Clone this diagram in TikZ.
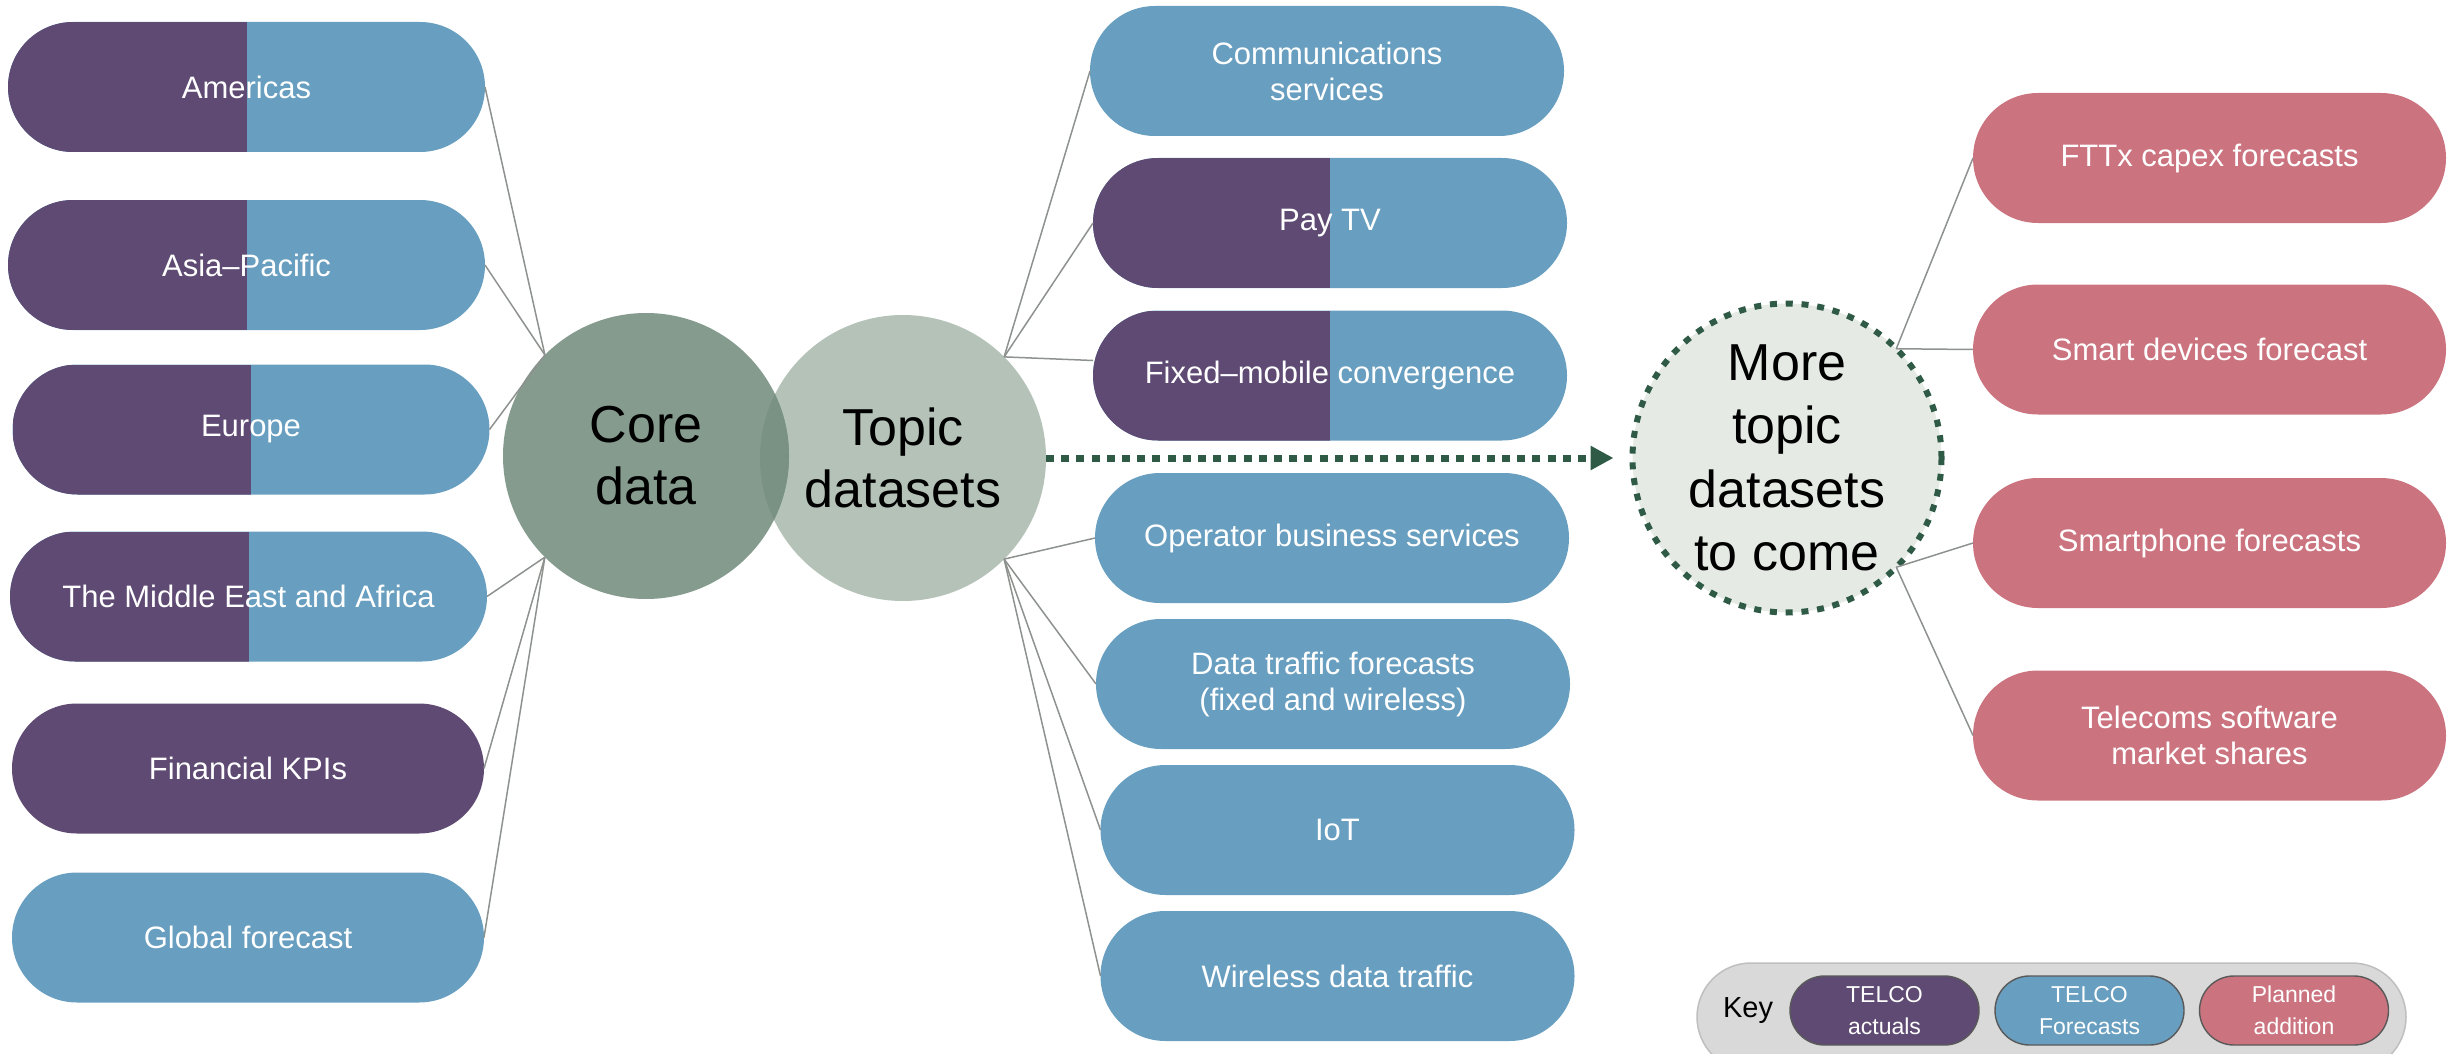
\documentclass[tikz,border=0pt]{standalone}
\usepackage{fontspec}
\setmainfont{Liberation Sans}
\usetikzlibrary{arrows.meta}

\definecolor{tpurple}{RGB}{94,74,115}
\definecolor{tblue}{RGB}{104,158,191}
\definecolor{tpink}{RGB}{203,116,127}
\definecolor{coreg}{RGB}{133,155,142}
\definecolor{topicg}{RGB}{180,194,184}
\definecolor{overlapg}{RGB}{122,146,131}
\definecolor{moreg}{RGB}{229,235,228}
\definecolor{dgreen}{RGB}{47,90,69}
\definecolor{linkgray}{RGB}{142,146,143}
\definecolor{keyfill}{RGB}{217,217,217}
\definecolor{keyedge}{RGB}{191,191,191}
\definecolor{keypilledge}{RGB}{89,89,89}

\tikzset{
  pill/.style={rectangle, rounded corners=32.5pt, minimum width=237pt,
    minimum height=65pt, inner sep=0pt, outer sep=0pt, text=white,
    align=center, font=\fontsize{15.5}{18}\selectfont},
  bluepill/.style={pill, fill=tblue},
  purplepill/.style={pill, fill=tpurple},
  pinkpill/.style={pill, fill=tpink, minimum width=236.5pt},
  twotone/.style={pill, fill=tblue, path picture={
      \fill[tpurple, sharp corners] (path picture bounding box.south west)
        rectangle (path picture bounding box.north);}},
  hub/.style={circle, minimum size=143pt, inner sep=0pt, outer sep=0pt,
    align=center, text=black, font=\fontsize{26}{31}\selectfont},
  link/.style={draw=linkgray, line width=0.75pt},
  flowline/.style={draw=dgreen, line width=3.5pt, dash pattern=on 4pt off 3.6pt,
    -{Triangle[length=11.5pt,width=11.5pt]}, shorten >=9.5pt},
  keypill/.style={rectangle, rounded corners=17.25pt, minimum width=94.5pt,
    minimum height=34.5pt, inner sep=0pt, draw=keypilledge, line width=0.7pt,
    text=white, align=center, font=\fontsize{11.5}{16}\selectfont},
}

\begin{document}
\begin{tikzpicture}[x=0.5pt, y=-0.5pt]
\useasboundingbox (0,0) rectangle (2463,1054);
\clip (0,0) rectangle (2463,1054);

% core data regions
\node[twotone, minimum width=238.5pt] (americas) at (246.5,87)  {Americas};
\node[twotone, minimum width=238.5pt] (asia)     at (246.5,265) {Asia–Pacific};
\node[twotone, minimum width=238.5pt] (europe)   at (251,429.5) {Europe};
\node[twotone, minimum width=238.5pt] (mea)      at (248.5,596.5) {The Middle East and Africa};
\node[purplepill, minimum width=236pt] (fin)     at (248,768.5) {Financial KPIs};
\node[bluepill, minimum width=236pt] (global)    at (248,937.5) {Global forecast};

% hubs
\node[hub, fill=topicg] (topic) at (903,458) {Topic\\datasets};
\node[hub, fill=coreg]  (core)  at (646,456) {Core\\data};
\begin{scope}
  \clip (core.center) circle[radius=71.5pt];
  \fill[overlapg] (topic.center) circle[radius=71.5pt];
\end{scope}

% topic datasets
\node[bluepill]   (comm)  at (1327,71)    {Communications\\services};
\node[twotone]    (paytv) at (1330,223)   {Pay TV};
\node[twotone]    (fmc)   at (1330,375.5) {Fixed–mobile convergence};
\node[bluepill]   (obs)   at (1332,538)   {Operator business services};
\node[bluepill]   (dtf)   at (1333,684)   {Data traffic forecasts\\(fixed and wireless)};
\node[bluepill]   (iot)   at (1337.5,830) {IoT};
\node[bluepill]   (wdt)   at (1337.5,976) {Wireless data traffic};

% datasets to come
\node[hub, fill=moreg, draw=dgreen, line width=3pt, dash pattern=on 3.5pt off 4.4pt,
  minimum size=154.5pt, font=\fontsize{26}{31.75}\selectfont]
  (more) at (1787,458) {More\\topic\\datasets\\to come};

\node[pinkpill] (fttx)  at (2209.5,158)   {FTTx capex forecasts};
\node[pinkpill] (smart) at (2209.5,349.5) {Smart devices forecast};
\node[pinkpill] (phone) at (2209.5,543)   {Smartphone forecasts};
\node[pinkpill] (soft)  at (2209.5,735.5) {Telecoms software\\market shares};

% connectors
\coordinate (coreup) at (core.135);
\coordinate (coredn) at (core.225);
\coordinate (topup)  at (topic.45);
\coordinate (topdn)  at (topic.-45);
\coordinate (moreup) at (more.45);
\coordinate (moredn) at (more.-45);

\foreach \n in {americas,asia,europe} \draw[link] (coreup) -- (\n.east);
\foreach \n in {mea,fin,global} \draw[link] (coredn) -- (\n.east);
\draw[link] (topup) -- (comm.west);
\draw[link] (topup) -- (paytv.west);
\draw[link] (topup) -- ([yshift=7.5pt]fmc.west);
\foreach \n in {obs,dtf,iot,wdt} \draw[link] (topdn) -- (\n.west);
\draw[link] (moreup) -- (fttx.west);
\draw[link] (moreup) -- (smart.west);
\draw[link] (moredn) -- (phone.west);
\draw[link] (moredn) -- (soft.west);

\draw[flowline] (topic.east) -- (more.west);

% key
\node[rectangle, rounded corners=27pt, minimum width=354.5pt, minimum height=54pt,
  fill=keyfill, draw=keyedge, line width=0.75pt] (keybox) at (2051.5,1017) {};
\node[font=\fontsize{14.5}{17}\selectfont] (keylabel) at (1748,1011) {Key};
\node[keypill, fill=tpurple] (keyact)  at (1884.5,1010.5) {TELCO\\actuals};
\node[keypill, fill=tblue]   (keyfc)   at (2089.5,1010.5) {TELCO\\Forecasts};
\node[keypill, fill=tpink]   (keyplan) at (2294,1010.5)   {Planned\\addition};
\end{tikzpicture}
\end{document}
